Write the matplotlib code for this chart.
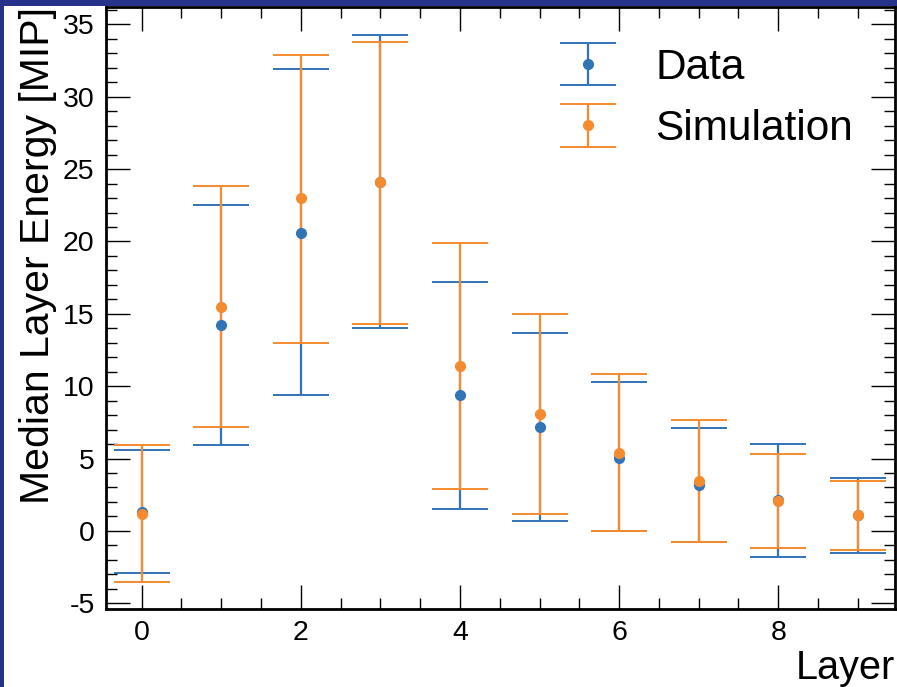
import matplotlib
matplotlib.use("Agg")
import matplotlib.pyplot as plt
from matplotlib.ticker import MultipleLocator
from matplotlib.patches import Rectangle

plt.rcParams['font.family'] = ['Liberation Sans', 'DejaVu Sans']
plt.rcParams['axes.unicode_minus'] = False

layers = [0, 1, 2, 3, 4, 5, 6, 7, 8, 9]

data_median = [1.3, 14.2, 20.6, 24.1, 9.4, 7.15, 5.05, 3.15, 2.1, 1.1]
data_low = [-2.9, 5.9, 9.4, 14.0, 1.5, 0.7, -0.03, -0.77, -1.8, -1.55]
data_high = [5.6, 22.5, 31.9, 34.3, 17.2, 13.7, 10.3, 7.1, 6.0, 3.65]

sim_median = [1.15, 15.5, 23.0, 24.1, 11.4, 8.1, 5.4, 3.45, 2.07, 1.08]
sim_low = [-3.5, 7.2, 13.0, 14.3, 2.87, 1.17, -0.03, -0.77, -1.2, -1.34]
sim_high = [5.9, 23.8, 32.9, 33.8, 19.9, 15.0, 10.85, 7.65, 5.3, 3.45]

blue = '#3274b6'
orange = '#f58b2e'

fig = plt.figure(figsize=(8.97, 6.87), dpi=100)
fig.patch.set_facecolor('white')
fig.patches.append(Rectangle((0, 1 - 6 / 687), 1, 6 / 687, transform=fig.transFigure,
                             facecolor='#27338a', edgecolor='none', zorder=-10))
fig.patches.append(Rectangle((0, 0), 4 / 897, 1, transform=fig.transFigure,
                             facecolor='#27338a', edgecolor='none', zorder=-10))

ax = fig.add_axes([0.118, 0.1135, 0.880, 0.8763])

def yerr(med, lo, hi):
    return [[m - l for m, l in zip(med, lo)], [h - m for m, h in zip(med, hi)]]

ax.errorbar(layers, data_median, yerr=yerr(data_median, data_low, data_high),
            fmt='o', color=blue, ms=7, elinewidth=1.6, capsize=20.5, capthick=1.4,
            label='Data')
ax.errorbar(layers, sim_median, yerr=yerr(sim_median, sim_low, sim_high),
            fmt='o', color=orange, ms=7, elinewidth=1.6, capsize=20.5, capthick=1.4,
            label='Simulation')

ax.set_xlim(-0.45, 9.47)
ax.set_ylim(-5.4, 36.2)
ax.xaxis.set_major_locator(MultipleLocator(2))
ax.xaxis.set_minor_locator(MultipleLocator(0.5))
ax.yaxis.set_major_locator(MultipleLocator(5))
ax.yaxis.set_minor_locator(MultipleLocator(1))
ax.tick_params(which='both', direction='in', top=True, right=True, labelsize=20.5, width=1.0)
ax.tick_params(which='major', length=17, pad=8)
ax.tick_params(which='minor', length=8)
for s in ax.spines.values():
    s.set_linewidth(2)

ax.set_ylabel('Median Layer Energy [MIP]', fontsize=29.5, loc='top', labelpad=4)
ax.set_xlabel('Layer', fontsize=28.5, loc='right', labelpad=2)

ax.legend(loc='upper right', fontsize=30.5, frameon=False, bbox_to_anchor=(0.995, 0.995),
          handletextpad=0.58, labelspacing=0.5)

fig.savefig('out.png', dpi=100)
